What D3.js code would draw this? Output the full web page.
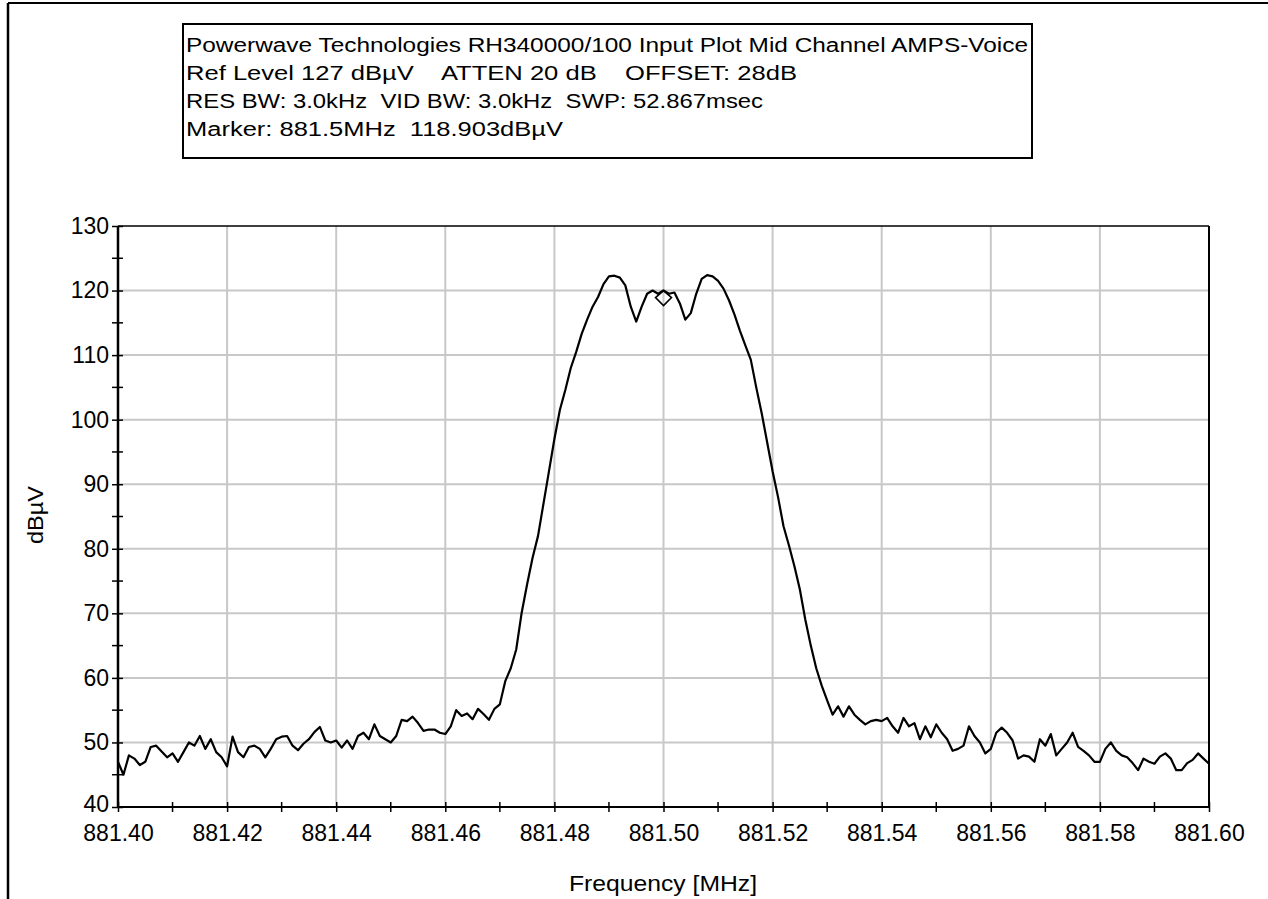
<!DOCTYPE html>
<html>
<head>
<meta charset="utf-8">
<script src="https://cdn.jsdelivr.net/npm/d3@7"></script>
<style>
  html, body { margin: 0; padding: 0; background: #fff; }
  svg { display: block; }
  text { font-family: "Liberation Sans", Arial, sans-serif; fill: #000; }
</style>
</head>
<body>
<svg id="chart" width="1268" height="899"></svg>
<script>
// ---------- data ----------
const titleLines = [
  "Powerwave Technologies RH340000/100 Input Plot Mid Channel AMPS-Voice",
  "Ref Level 127 dB\u00b5V    ATTEN 20 dB    OFFSET: 28dB",
  "RES BW: 3.0kHz  VID BW: 3.0kHz  SWP: 52.867msec",
  "Marker: 881.5MHz  118.903dB\u00b5V"
];
const titleWidths = [842, 611, 577, 377];
const xLabel = "Frequency [MHz]";
const yLabel = "dB\u00b5V";
const freqStart = 881.40;
const freqStep = 0.001;   // MHz between sweep points
const xTickValues = [881.40, 881.42, 881.44, 881.46, 881.48, 881.50, 881.52, 881.54, 881.56, 881.58, 881.60];
const xTickLabels = ["881.40", "881.42", "881.44", "881.46", "881.48", "881.50", "881.52", "881.54", "881.56", "881.58", "881.60"];
const xMinorTicks = [881.41, 881.43, 881.45, 881.47, 881.49, 881.51, 881.53, 881.55, 881.57, 881.59];
const yTickValues = [40, 50, 60, 70, 80, 90, 100, 110, 120, 130];
const yMinorTicks = [45, 55, 65, 75, 85, 95, 105, 115, 125];
const markerFreq = 881.5;
const markerLevel = 118.903;
// trace level, dBuV, one value per sweep point
const levels = [
  47.0, 45.0, 48.0, 47.5, 46.5, 47.0, 49.3, 49.5, 48.6, 47.7,
  48.3, 47.0, 48.5, 50.0, 49.5, 51.0, 49.0, 50.5, 48.5, 47.7,
  46.3, 50.9, 48.5, 47.7, 49.3, 49.5, 49.0, 47.7, 49.0, 50.5,
  50.9, 51.0, 49.5, 48.8, 49.8, 50.5, 51.6, 52.4, 50.3, 50.0,
  50.3, 49.2, 50.3, 49.0, 51.0, 51.5, 50.5, 52.8, 51.0, 50.5,
  50.0, 51.0, 53.5, 53.3, 54.0, 53.0, 51.8, 52.0, 52.0, 51.5,
  51.3, 52.5, 55.0, 54.1, 54.5, 53.6, 55.2, 54.4, 53.5, 55.2,
  55.9, 59.5, 61.5, 64.4, 70.1, 74.5, 78.6, 82.0, 87.0, 92.0,
  97.0, 101.5, 104.6, 108.0, 110.5, 113.3, 115.5, 117.5, 119.0, 121.0,
  122.2, 122.3, 122.0, 120.8, 117.5, 115.2, 117.5, 119.5, 120.0, 119.5,
  120.0, 119.5, 119.7, 118.0, 115.5, 116.5, 119.5, 121.8, 122.4, 122.2,
  121.5, 120.3, 118.5, 116.3, 113.8, 111.5, 109.3, 105.0, 101.0, 96.5,
  92.0, 88.0, 83.5, 80.5, 77.3, 73.7, 69.0, 65.0, 61.5, 58.8,
  56.5, 54.3, 55.6, 54.0, 55.6, 54.3, 53.5, 52.8, 53.3, 53.5,
  53.3, 53.8, 52.5, 51.5, 53.8, 52.5, 53.0, 50.5, 52.5, 50.8,
  52.8, 51.5, 50.5, 48.7, 49.0, 49.5, 52.5, 51.0, 50.0, 48.3,
  49.0, 51.5, 52.3, 51.5, 50.3, 47.5, 48.0, 47.8, 47.0, 50.5,
  49.5, 51.3, 48.0, 49.0, 50.0, 51.5, 49.3, 48.7, 48.0, 47.0,
  47.0, 49.0, 50.0, 48.7, 48.0, 47.7, 46.8, 45.7, 47.5, 47.0,
  46.7, 47.8, 48.3, 47.5, 45.7, 45.7, 46.8, 47.3, 48.3, 47.5,
  46.7
];

// ---------- drawing ----------
(function () {
const svg = d3.select("#chart");
const pLeft = 118, pRight = 1209, pTop = 226, pBottom = 807;
const x = d3.scaleLinear().domain([881.40, 881.60]).range([pLeft, pRight]);
const y = d3.scaleLinear().domain([40, 130]).range([pBottom, pTop]);

// outer frame (top and left edges)
svg.append("line").attr("x1", 8).attr("x2", 1268).attr("y1", 3).attr("y2", 3)
  .attr("stroke", "#000").attr("stroke-width", 2);
svg.append("line").attr("x1", 8).attr("x2", 8).attr("y1", 3).attr("y2", 899)
  .attr("stroke", "#000").attr("stroke-width", 2.5);

// title box
svg.append("rect").attr("x", 183).attr("y", 24).attr("width", 849).attr("height", 134)
  .attr("fill", "#fff").attr("stroke", "#000").attr("stroke-width", 2);
svg.append("g").selectAll("text").data(titleLines).join("text")
  .attr("x", 186).attr("y", (d, i) => 52 + i * 28)
  .attr("font-size", 20).style("white-space", "pre")
  .attr("textLength", (d, i) => titleWidths[i]).attr("lengthAdjust", "spacingAndGlyphs")
  .text(d => d);

// grid
const grid = svg.append("g").attr("stroke", "#c8c8c8").attr("stroke-width", 2);
grid.selectAll(".gx").data(xTickValues.slice(1, -1)).join("line")
  .attr("x1", d => x(d)).attr("x2", d => x(d)).attr("y1", pTop).attr("y2", pBottom);
grid.selectAll(".gy").data(yTickValues.slice(1, -1)).join("line")
  .attr("x1", pLeft).attr("x2", pRight).attr("y1", d => y(d)).attr("y2", d => y(d));

// plot frame top/right
svg.append("line").attr("x1", pLeft).attr("x2", pRight).attr("y1", pTop).attr("y2", pTop)
  .attr("stroke", "#000").attr("stroke-width", 1.5);
svg.append("line").attr("x1", pRight).attr("x2", pRight).attr("y1", pTop).attr("y2", pBottom)
  .attr("stroke", "#000").attr("stroke-width", 2);

// trace
const pts = levels.map((v, i) => [freqStart + i * freqStep, v]);
svg.append("path").datum(pts)
  .attr("fill", "none").attr("stroke", "#000").attr("stroke-width", 2.2)
  .attr("stroke-linejoin", "round")
  .attr("d", d3.line().x(d => x(d[0])).y(d => y(d[1])));

// marker diamond
const mx = x(markerFreq), my = y(markerLevel);
svg.append("path")
  .attr("d", `M${mx - 8},${my} L${mx},${my - 7} L${mx + 8},${my} L${mx},${my + 8} Z`)
  .attr("fill", "none").attr("stroke", "#000").attr("stroke-width", 1.6);

// y axis
const yAxis = svg.append("g").attr("transform", `translate(${pLeft},0)`)
  .call(d3.axisLeft(y).tickValues(yTickValues).tickSize(6).tickPadding(3).tickFormat(d3.format("d")));
yAxis.select(".domain").attr("stroke-width", 2.5).attr("d", `M0,${pTop}V${pBottom}`);
yAxis.selectAll(".tick line").attr("x1", 5).attr("stroke-width", 1.5);
yAxis.selectAll(".tick text").attr("font-size", 23).attr("font-family", "Liberation Sans, Arial, sans-serif").attr("fill", "#000");
yAxis.selectAll(".tick").filter(d => d === 40).select("text").attr("dy", "0.2em");
yAxis.selectAll(".minor").data(yMinorTicks).join("line")
  .attr("x1", -6).attr("x2", 5).attr("y1", d => y(d)).attr("y2", d => y(d))
  .attr("stroke", "#000").attr("stroke-width", 1.5);

// x axis
const xAxis = svg.append("g").attr("transform", `translate(0,${pBottom})`)
  .call(d3.axisBottom(x).tickValues(xTickValues).tickSize(5).tickPadding(13)
    .tickFormat((d, i) => xTickLabels[i]));
xAxis.select(".domain").attr("stroke-width", 2.2).attr("d", `M${pLeft},0H${pRight}`);
xAxis.selectAll(".tick line").attr("y1", -5).attr("stroke-width", 1.5);
xAxis.selectAll(".tick text").attr("font-size", 23).attr("font-family", "Liberation Sans, Arial, sans-serif").attr("fill", "#000");
xAxis.selectAll(".minor").data(xMinorTicks).join("line")
  .attr("x1", d => x(d)).attr("x2", d => x(d)).attr("y1", -5).attr("y2", 5)
  .attr("stroke", "#000").attr("stroke-width", 1.5);

// axis titles
svg.append("text").attr("x", 663).attr("y", 891).attr("text-anchor", "middle")
  .attr("font-size", 22).attr("textLength", 188).attr("lengthAdjust", "spacingAndGlyphs").text(xLabel);
svg.append("text").attr("transform", "translate(43,515) rotate(-90)")
  .attr("text-anchor", "middle").attr("font-size", 22).attr("textLength", 58)
  .attr("lengthAdjust", "spacingAndGlyphs").text(yLabel);
})();
</script>
</body>
</html>
